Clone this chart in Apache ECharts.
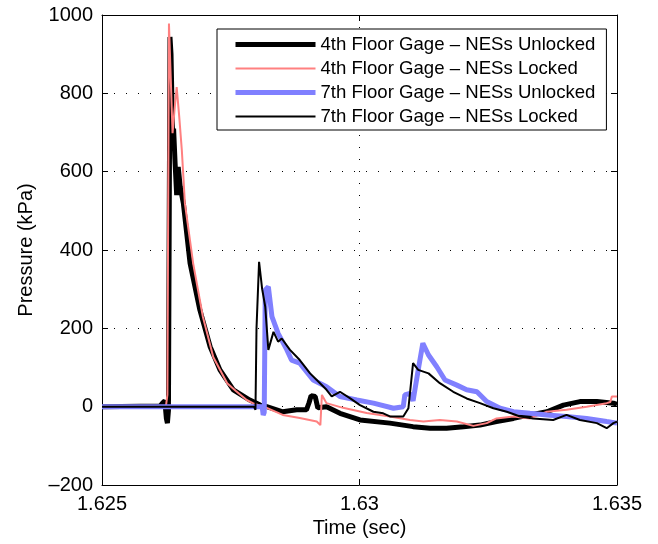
<!DOCTYPE html>
<html>
<head>
<meta charset="utf-8">
<script src="https://cdn.jsdelivr.net/npm/echarts@6/dist/echarts.min.js"></script>
<style>
html,body{margin:0;padding:0;background:#fff;}
#chart{width:658px;height:544px;}
</style>
</head>
<body>
<div id="chart"></div>
<script>
// ---- data (time in seconds, pressure in kPa) ----
const seriesNames = [
  '4th Floor Gage \u2013 NESs Unlocked',
  '4th Floor Gage \u2013 NESs Locked',
  '7th Floor Gage \u2013 NESs Unlocked',
  '7th Floor Gage \u2013 NESs Locked'
];

const floor4Unlocked = [
  [1.62500,0],[1.62613,2],[1.62618,10],[1.62622,15],[1.62625,-30],[1.62627,-42],[1.62629,-10],
  [1.62632,944],[1.62634,900],[1.62637,700],[1.62639,710],[1.62642,620],[1.62645,540],[1.62648,612],
  [1.62652,560],[1.62658,519],[1.62671,366],[1.62690,247],[1.62710,153],[1.62729,94],[1.62755,43],
  [1.62787,17],[1.62807,4],[1.62820,0],[1.62851,-13],[1.62878,-8],[1.62897,-8],[1.62902,10],
  [1.62906,28],[1.62914,26],[1.62919,-3],[1.62936,0],[1.62962,-17],[1.63001,-34],[1.63059,-42],
  [1.63104,-51],[1.63137,-55],[1.63169,-55],[1.63202,-51],[1.63234,-47],[1.63266,-38],[1.63299,-30],
  [1.63331,-21],[1.63364,-13],[1.63396,4],[1.63428,13],[1.63461,13],[1.63493,9],[1.63500,6]
];

const floor4Locked = [
  [1.62500,0],[1.62624,0],[1.62627,30],[1.62630,978],[1.62637,698],[1.62641,760],[1.62645,816],
  [1.62650,740],[1.62655,655],[1.62661,519],[1.62677,366],[1.62696,229],[1.62716,127],[1.62743,60],
  [1.62760,40],[1.62781,17],[1.62793,9],[1.62820,-3],[1.62851,-21],[1.62884,-29],[1.62917,-38],
  [1.62924,-47],[1.62927,30],[1.62936,9],[1.62968,-3],[1.63014,-16],[1.63059,-25],[1.63098,-34],
  [1.63124,-38],[1.63156,-34],[1.63189,-38],[1.63221,-49],[1.63247,-42],[1.63266,-30],[1.63299,-25],
  [1.63331,-30],[1.63364,-13],[1.63402,-8],[1.63441,0],[1.63480,9],[1.63487,12],[1.63490,26],
  [1.63500,26]
];

const floor7Unlocked = [
  [1.62500,0],[1.62811,0],[1.62813,-21],[1.62815,-15],[1.62817,298],[1.62823,306],[1.62830,230],
  [1.62842,187],[1.62859,145],[1.62868,119],[1.62884,111],[1.62910,68],[1.62936,51],[1.62962,26],
  [1.62995,17],[1.63027,9],[1.63066,-4],[1.63085,0],[1.63088,30],[1.63098,34],[1.63104,15],
  [1.63114,94],[1.63123,162],[1.63134,132],[1.63150,102],[1.63166,68],[1.63189,55],[1.63208,43],
  [1.63228,38],[1.63247,13],[1.63273,-4],[1.63299,-13],[1.63331,-17],[1.63364,-21],[1.63402,-25],
  [1.63441,-30],[1.63480,-38],[1.63500,-42]
];

const floor7Locked = [
  [1.62500,0],[1.62795,0],[1.62798,-8],[1.62800,200],[1.62805,370],[1.62811,300],[1.62817,255],
  [1.62823,145],[1.62833,191],[1.62842,166],[1.62849,174],[1.62865,145],[1.62884,119],[1.62904,85],
  [1.62917,68],[1.62936,43],[1.62946,26],[1.62962,38],[1.62982,21],[1.63001,4],[1.63027,-13],
  [1.63046,-17],[1.63059,-25],[1.63085,-25],[1.63095,-4],[1.63104,111],[1.63114,94],[1.63134,85],
  [1.63156,60],[1.63182,38],[1.63208,21],[1.63234,9],[1.63260,-4],[1.63286,-13],[1.63312,-25],
  [1.63337,-30],[1.63376,-34],[1.63402,-21],[1.63428,-34],[1.63461,-42],[1.63480,-55],[1.63493,-42],
  [1.63500,-38]
];

const xTicks = [1.625, 1.63, 1.635];
const xTickLabels = ['1.625', '1.63', '1.635'];
const yTicks = [-200, 0, 200, 400, 600, 800, 1000];
const yTickLabels = ['\u2013200', '0', '200', '400', '600', '800', '1000'];

// ---- chart ----
const FONT = "'Liberation Sans', Arial, Helvetica, sans-serif";
function xLabel(v) {
  for (let i = 0; i < xTicks.length; i++) if (Math.abs(v - xTicks[i]) < 1e-7) return xTickLabels[i];
  return '';
}
function yLabel(v) {
  for (let i = 0; i < yTicks.length; i++) if (Math.abs(v - yTicks[i]) < 1e-6) return yTickLabels[i];
  return '';
}
const axisLineStyle = { show: true, onZero: false, lineStyle: { color: '#000', width: 1 } };
const tickStyle = { show: true, inside: true, length: 6, lineStyle: { color: '#000', width: 1 } };
const dotted = { show: true, lineStyle: { color: '#000', width: 1, type: [1, 11] } };

const chart = echarts.init(document.getElementById('chart'), null, { renderer: 'canvas' });
chart.setOption({
  animation: false,
  backgroundColor: '#fff',
  textStyle: { fontFamily: FONT, color: '#000' },
  grid: { left: 102, top: 15, right: 41, bottom: 59, containLabel: false },
  legend: {
    orient: 'vertical',
    left: 217,
    top: 29,
    data: seriesNames,
    backgroundColor: '#fff',
    borderColor: '#000',
    borderWidth: 1,
    padding: [6, 11, 4, 16],
    itemWidth: 80,
    itemHeight: 14,
    itemGap: 5,
    itemStyle: { opacity: 0, borderWidth: 0 },
    lineStyle: { width: 'inherit', opacity: 1 },
    textStyle: { fontFamily: FONT, fontSize: 18.6, lineHeight: 19, color: '#000' }
  },
  xAxis: [{
    type: 'value', min: 1.625, max: 1.635, interval: 0.005,
    position: 'bottom',
    name: 'Time (sec)', nameLocation: 'middle', nameGap: 33,
    nameTextStyle: { fontFamily: FONT, fontSize: 20, color: '#000' },
    axisLine: axisLineStyle, axisTick: tickStyle,
    axisLabel: { fontFamily: FONT, fontSize: 20, color: '#000', margin: 9, formatter: xLabel },
    splitLine: dotted
  }, {
    type: 'value', min: 1.625, max: 1.635, interval: 0.005,
    position: 'top',
    axisLine: axisLineStyle, axisTick: tickStyle,
    axisLabel: { show: false }, splitLine: { show: false }
  }],
  yAxis: [{
    type: 'value', min: -200, max: 1000, interval: 200,
    position: 'left',
    name: 'Pressure (kPa)', nameLocation: 'middle', nameGap: 66,
    nameTextStyle: { fontFamily: FONT, fontSize: 20, color: '#000' },
    axisLine: axisLineStyle, axisTick: tickStyle,
    axisLabel: { fontFamily: FONT, fontSize: 20, color: '#000', margin: 9, formatter: yLabel },
    splitLine: dotted
  }, {
    type: 'value', min: -200, max: 1000, interval: 200,
    position: 'right',
    axisLine: axisLineStyle, axisTick: tickStyle,
    axisLabel: { show: false }, splitLine: { show: false }
  }],
  series: [
    { name: seriesNames[0], type: 'line', data: floor4Unlocked, symbol: 'none', color: '#000',
      lineStyle: { color: '#000', width: 5 }, z: 2 },
    { name: seriesNames[1], type: 'line', data: floor4Locked, symbol: 'none', color: '#ff8080',
      lineStyle: { color: '#ff8080', width: 2 }, z: 3 },
    { name: seriesNames[2], type: 'line', data: floor7Unlocked, symbol: 'none', color: '#8080ff',
      lineStyle: { color: '#8080ff', width: 5 }, z: 4 },
    { name: seriesNames[3], type: 'line', data: floor7Locked, symbol: 'none', color: '#000',
      lineStyle: { color: '#000', width: 2 }, z: 5 }
  ]
});
</script>
</body>
</html>
